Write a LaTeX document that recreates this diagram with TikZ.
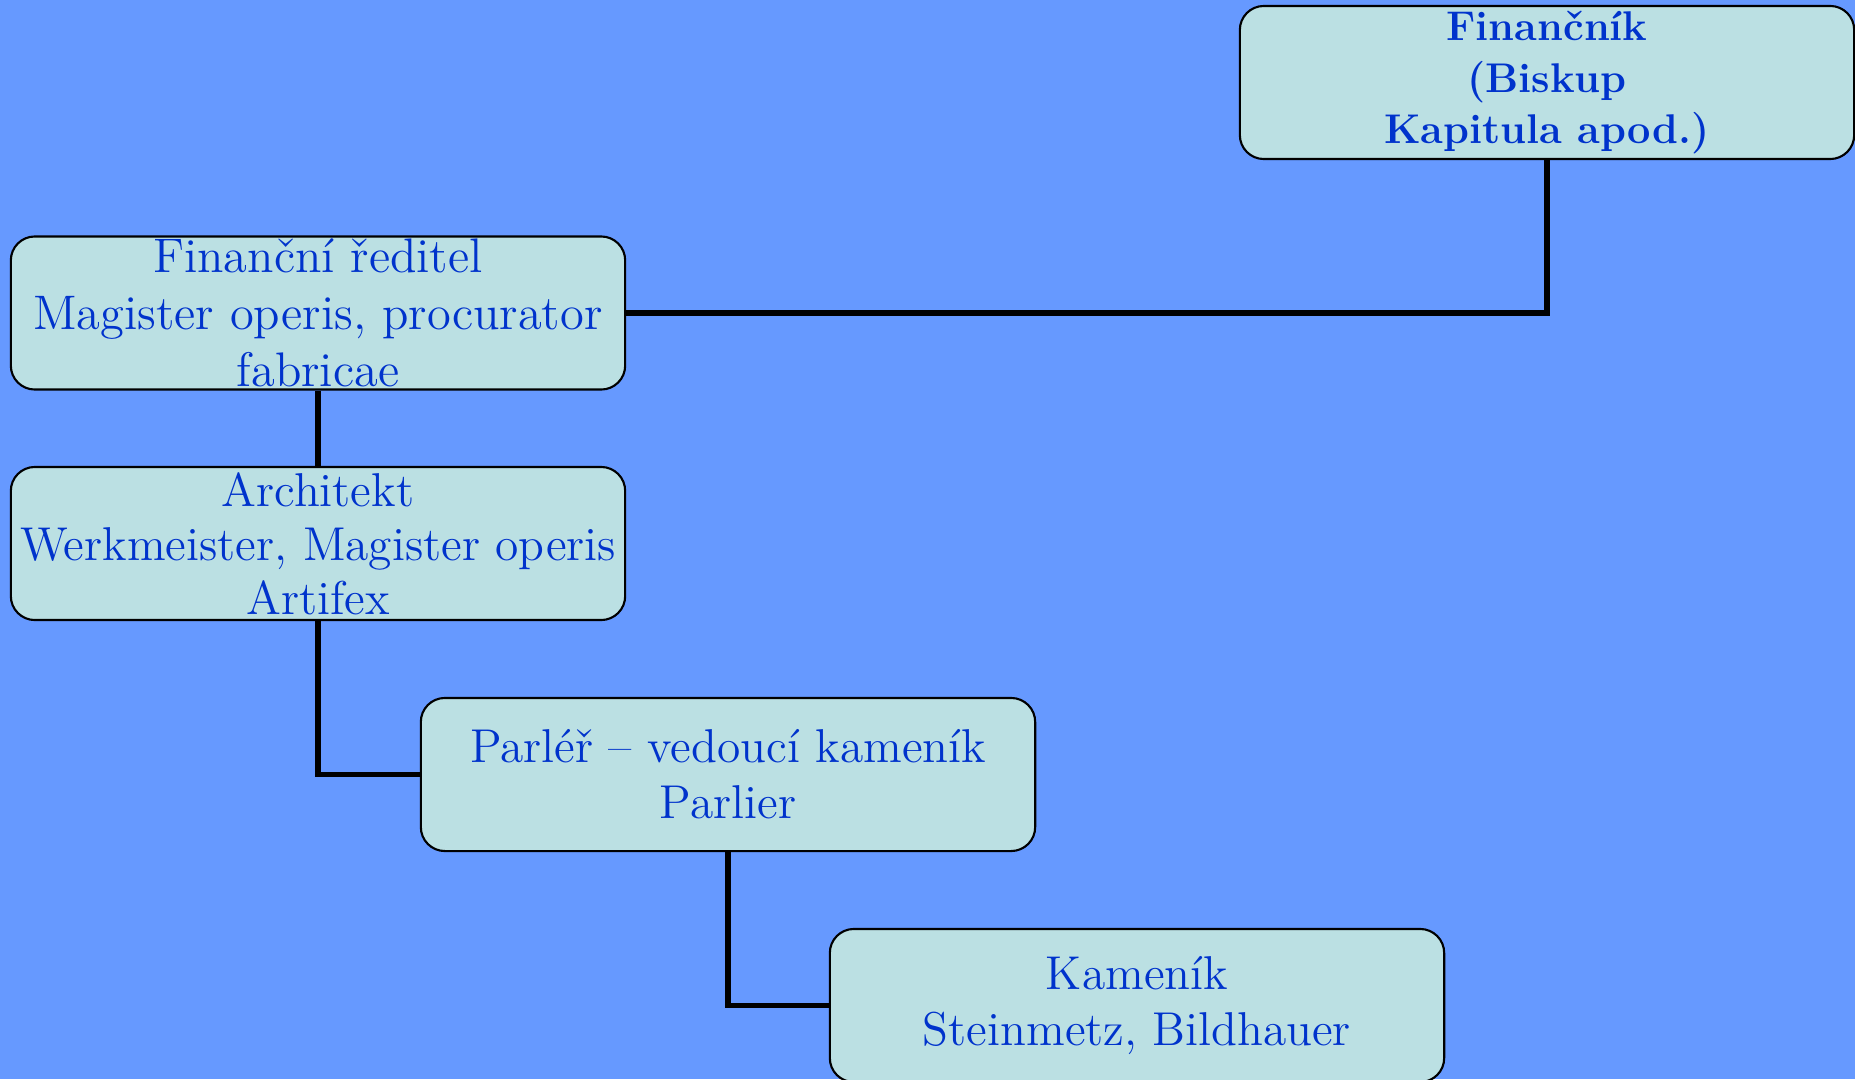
\documentclass[tikz,border=0pt]{standalone}
\usepackage{fontspec}
\definecolor{bgblue}{HTML}{6699FF}
\definecolor{boxfill}{HTML}{BBE0E3}
\definecolor{textblue}{HTML}{0033CC}

\begin{document}
\begin{tikzpicture}[x=0.01cm, y=-0.01cm,
    rolebox/.style={draw=black, line width=0.6pt, fill=boxfill, rounded corners=0.24cm,
        minimum width=6.14cm, minimum height=1.53cm, inner sep=0pt, align=center,
        text=textblue, font=\fontsize{13.5}{15.9}\selectfont},
    link/.style={line width=1.5pt, black}]
    \useasboundingbox (0, 0) rectangle (1855, 1079);
    \fill[bgblue] (0, 0) rectangle (1855, 1079);

    \node[rolebox, font=\bfseries\fontsize{11.8}{14.6}\selectfont] (fin) at (1547, 82.5)
        {Finančník\\(Biskup\\Kapitula apod.)};
    \node[rolebox, font=\fontsize{13.8}{16.2}\selectfont] (reditel) at (318, 313)
        {Finanční ředitel\\Magister operis, procurator\\fabricae};
    \node[rolebox, font=\fontsize{13.5}{15.3}\selectfont] (arch) at (318, 543.5)
        {Architekt\\Werkmeister, Magister operis\\Artifex};
    \node[rolebox] (parler) at (728, 774.5)
        {Parléř -- vedoucí kameník\\Parlier};
    \node[rolebox] (kamenik) at (1137, 1005.5)
        {Kameník\\Steinmetz, Bildhauer};

    \draw[link] (fin.south) |- (reditel.east);
    \draw[link] (reditel.south) -- (arch.north);
    \draw[link] (arch.south) |- (parler.west);
    \draw[link] (parler.south) |- (kamenik.west);
\end{tikzpicture}
\end{document}
